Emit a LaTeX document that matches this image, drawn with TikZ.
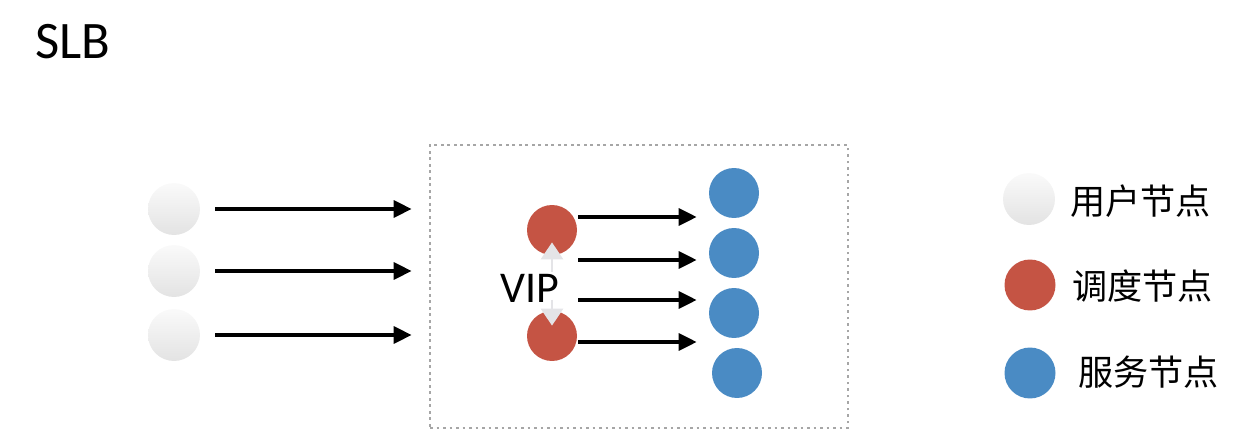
\documentclass[tikz,border=0pt]{standalone}
\usepackage{fontspec}
\setmainfont{Carlito}
\newfontfamily\cjk{Noto Sans CJK SC}
\usetikzlibrary{arrows.meta, calc}

\definecolor{slbred}{RGB}{197,84,68}
\definecolor{slbblue}{RGB}{74,139,196}
\definecolor{viplight}{RGB}{228,228,231}

\begin{document}
\begin{tikzpicture}[x=0.02cm, y=-0.02cm, >={Triangle[length=0.36cm, width=0.34cm]},
  user/.style={circle, minimum size=1.04cm, inner sep=0pt, top color=gray!4, bottom color=gray!22},
  sched/.style={circle, minimum size=1cm, inner sep=0pt, fill=slbred},
  serv/.style={circle, minimum size=1cm, inner sep=0pt, fill=slbblue},
  flow/.style={->, line width=1.8pt},
  vipline/.style={-{Triangle[length=0.34cm, width=0.44cm]}, line width=1.6pt, draw=viplight, fill=viplight},
  legtext/.style={anchor=west, inner sep=0pt, font=\cjk\fontsize{20}{24}\selectfont}]
  \useasboundingbox (0,0) rectangle (1248,442);

  % title
  \node[font=\fontsize{30}{34}\selectfont] (title) at (73,42) {SLB};

  % users on the left
  \node[user] (u1) at (174,209) {};
  \node[user] (u2) at (174,271) {};
  \node[user] (u3) at (174,335) {};

  % frame round the balancer
  \node[draw=gray!70, line width=1.6pt, dash pattern=on 1.6pt off 2.1pt,
        minimum width=8.36cm, minimum height=5.66cm, inner sep=0pt] (box) at (639,286.5) {};

  \foreach \i in {1,2,3}
    \draw[flow, shorten <=0.3cm, shorten >=0.34cm] (u\i.east) -- (u\i.east -| box.west);

  % schedulers and VIP
  \node[sched] (r1) at (552,230) {};
  \node[sched] (r2) at (552,336) {};
  \node[font=\fontsize{25}{30}\selectfont, inner sep=0pt] (vip) at (530,288) {VIP};
  \draw[vipline, shorten >=-0.26cm] (552,272) -- (r1.south);
  \draw[vipline, shorten >=-0.3cm] (552,300) -- (r2.north);

  % servers on the right
  \node[serv] (s1) at (734,193) {};
  \node[serv] (s2) at (734,253) {};
  \node[serv] (s3) at (734,313) {};
  \node[serv] (s4) at (737,373) {};

  \coordinate (a1) at ([shift={(1,-13)}]r1.east);
  \coordinate (a2) at ([shift={(1,30)}]r1.east);
  \coordinate (a3) at ([shift={(1,-36)}]r2.east);
  \coordinate (a4) at ([shift={(1,6)}]r2.east);
  \foreach \i in {1,2,3,4}
    \draw[flow, shorten >=0.24cm] (a\i) -- (a\i -| s1.west);

  % legend
  \node[user] (l1) at (1029,199) {};
  \node[sched, minimum size=1.02cm] (l2) at (1030,285) {};
  \node[serv, minimum size=1.02cm] (l3) at (1030,373) {};
  \node[legtext] (t1) at (1070,201) {用户节点};
  \node[legtext] (t2) at (1072,286) {调度节点};
  \node[legtext] (t3) at (1078,372) {服务节点};
\end{tikzpicture}
\end{document}
